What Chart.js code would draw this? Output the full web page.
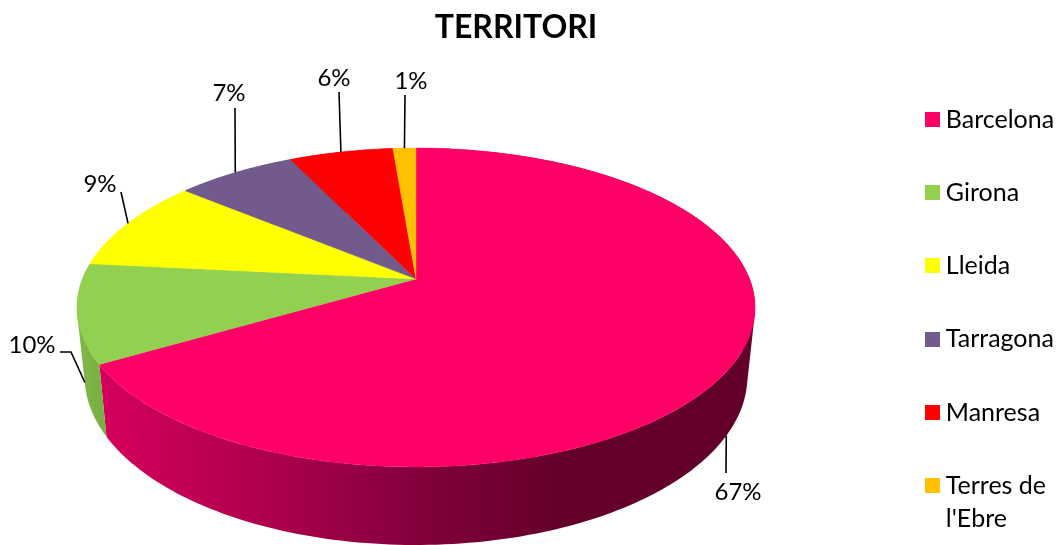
<!DOCTYPE html>
<html><head><meta charset="utf-8">
<style>html,body{margin:0;padding:0;background:#fff;overflow:hidden}canvas{display:block}</style>
<script src="https://cdn.jsdelivr.net/npm/chart.js@4"></script>
</head><body><canvas id="c" width="1061" height="545"></canvas>
<script>
const categories = ["Barcelona","Girona","Lleida","Tarragona","Manresa","Terres de l'Ebre"];
const legendLines = ["Barcelona","Girona","Lleida","Tarragona","Manresa",["Terres de","l'Ebre"]];
const values = [66.6,10,9.4,6.8,5.9,1.3];
const sliceColors = ["#FF0066","#92D050","#FFFF00","#735A8D","#FF0000","#FFC000"];

// label placement, separate from the data
const labelPlacement = [
  {c:[738,492], leader:[[726,473]], base:'bottom'},
  {c:[32,345],  leader:[[71,352],[60,352]], base:'bottom'},
  {c:[100,184], leader:[[121,192]], base:'top'},
  {c:[229,93],  leader:[[235,108]], base:'top'},
  {c:[334,78],  leader:[[339,92]], base:'top'},
  {c:[411,81],  leader:[[405,95]], base:'top'}
];
// perspective of the disc: top face and bottom face
const CX=416, PC=-0.1787;
const topFace={A:333.6,a:104.5,b:279};
const botFace={A:326,a:101,b:346.6};
function proj(f,ang){
  const u=Math.cos(ang),v=Math.sin(ang),d=1+PC*v;
  return [CX+f.A*u/d,(f.a*v+f.b)/d];
}
const FONT='Lato, Carlito, sans-serif';
function wallFill(ctx,i){
  if(i===1){
    const g=ctx.createLinearGradient(78,0,110,0);
    g.addColorStop(0,'#80B848');g.addColorStop(1,'#76AC40');
    return g;
  }
  const g=ctx.createLinearGradient(105,0,570,0);
  g.addColorStop(0,'#D4005C');
  g.addColorStop(0.35,'#AE004B');
  g.addColorStop(0.7,'#80003A');
  g.addColorStop(1,'#620029');
  return g;
}
const LEGEND_LEFT=884, LEGEND_TOP=58.7;
const pie3d={
  id:'pie3d',
  afterLayout(chart){
    chart.titleBlock.left=0; chart.titleBlock.right=1032;
    chart.titleBlock.top=0; chart.titleBlock.bottom=chart.titleBlock.height;
    const lg=chart.legend;
    lg.left=LEGEND_LEFT; lg.right=LEGEND_LEFT+300;
    lg.top=LEGEND_TOP; lg.bottom=800;
  },
  beforeDatasetsDraw(chart){
    const ctx=chart.ctx, arcs=chart.getDatasetMeta(0).data;
    ctx.save();
    // side walls: one path per slice, all quads wound the same way
    arcs.forEach((arc,i)=>{
      const s=arc.startAngle,e=arc.endAngle,n=Math.max(2,Math.ceil((e-s)/0.02));
      ctx.fillStyle=i<2?wallFill(ctx,i):sliceColors[i];
      ctx.beginPath();
      for(let k=0;k<n;k++){
        const a0=s+(e-s)*k/n,a1=s+(e-s)*(k+1)/n;
        let q=[proj(topFace,a0),proj(topFace,a1),proj(botFace,a1),proj(botFace,a0)];
        let area=0;
        q.forEach((p,j)=>{const r=q[(j+1)%4];area+=p[0]*r[1]-r[0]*p[1];});
        if(area<0)q.reverse();
        ctx.moveTo(...q[0]);ctx.lineTo(...q[1]);ctx.lineTo(...q[2]);ctx.lineTo(...q[3]);ctx.closePath();
      }
      ctx.fill('nonzero');
    });
    // top face
    arcs.forEach((arc,i)=>{
      const s=arc.startAngle,e=arc.endAngle,n=Math.max(4,Math.ceil((e-s)/0.01));
      ctx.beginPath();ctx.moveTo(CX,topFace.b);
      for(let k=0;k<=n;k++){ctx.lineTo(...proj(topFace,s+(e-s)*k/n));}
      ctx.closePath();
      ctx.fillStyle=arc.options.backgroundColor;
      ctx.strokeStyle=arc.options.backgroundColor;ctx.lineWidth=0.4;
      ctx.fill();ctx.stroke();
    });
    // leaders and labels
    const total=values.reduce((p,c)=>p+c,0);
    ctx.strokeStyle='#000';ctx.lineWidth=1.6;ctx.fillStyle='#000';
    ctx.font='24px '+FONT;ctx.textAlign='center';ctx.textBaseline='middle';
    arcs.forEach((arc,i)=>{
      const mid=(arc.startAngle+arc.endAngle)/2, pl=labelPlacement[i];
      const st=proj(pl.base==='top'?topFace:botFace,mid);
      ctx.beginPath();ctx.moveTo(...st);
      pl.leader.forEach(p=>ctx.lineTo(...p));
      ctx.stroke();
      ctx.fillText(Math.round(values[i]/total*100)+'%',pl.c[0],pl.c[1]);
    });
    ctx.restore();
    return false;
  },
  afterDraw(chart){
    // legend swatches: squares beside the legend's own text
    const ctx=chart.ctx, step=73.2, first=112;
    ctx.save();
    legendLines.forEach((t,i)=>{
      ctx.fillStyle=sliceColors[i];
      ctx.fillRect(925,Math.round(first+step*i),15,15);
    });
    ctx.restore();
  }
};
new Chart(document.getElementById('c'),{
  type:'pie',
  data:{labels:categories,datasets:[{data:values,backgroundColor:sliceColors,borderWidth:0}]},
  plugins:[pie3d],
  options:{
    responsive:false,animation:false,
    plugins:{
      tooltip:{enabled:false},
      title:{display:true,fullSize:false,text:'TERRITORI',color:'#000',font:{family:FONT,size:32,weight:'bold'},padding:{top:8,bottom:8}},
      legend:{position:'right',align:'start',
        labels:{boxWidth:1,boxHeight:14,padding:48.3,color:'#000',font:{family:FONT,size:25,lineHeight:1.32},
          generateLabels(){return legendLines.map((t,i)=>({text:t,fillStyle:'rgba(0,0,0,0)',strokeStyle:'rgba(0,0,0,0)',lineWidth:0,index:i,fontColor:'#000'}));}
        }
      }
    }
  }
});
</script></body></html>
